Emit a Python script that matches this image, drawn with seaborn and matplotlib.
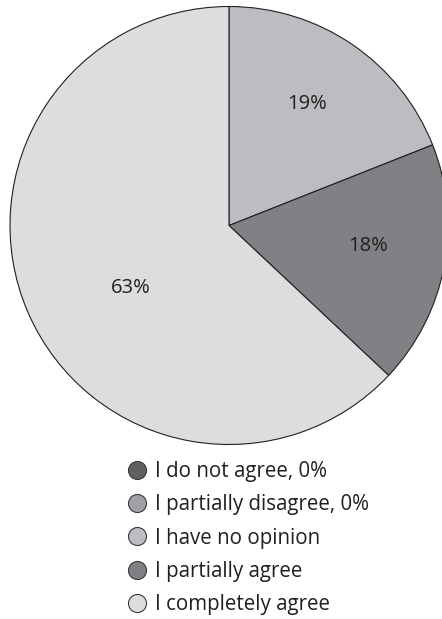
import matplotlib
matplotlib.use("Agg")
import matplotlib.pyplot as plt
from matplotlib.lines import Line2D
import seaborn as sns
import numpy as np

categories = ["I do not agree, 0%", "I partially disagree, 0%", "I have no opinion",
              "I partially agree", "I completely agree"]
values = [0, 0, 19, 18, 63]
colors = ["#5f6062", "#a0a1a4", "#bcbdc0", "#808184", "#dcdddf"]
pct_labels = ["", "", "19%", "18%", "63%"]

sns.set_theme(style="white")
plt.rcParams["font.family"] = ["Open Sans", "DejaVu Sans"]

W, H = 442, 619
fig = plt.figure(figsize=(W / 100, H / 100), dpi=100)
cx, cy, R = 229, 225.5, 219
ax = fig.add_axes([(cx - R) / W, 1 - (cy + R) / H, 2 * R / W, 2 * R / H])

wedges, _ = ax.pie(values, colors=colors, startangle=90, counterclock=False,
                   wedgeprops=dict(edgecolor="#231f20", linewidth=0.8))
for w in wedges:
    w.set_clip_on(False)
ax.set_xlim(-1, 1)
ax.set_ylim(-1, 1)
ax.set_aspect("equal")
ax.axis("off")

# label radial distances (fraction of radius) and angular offsets (deg)
label_r = [0, 0, 0.66, 0.64, 0.53]
label_shift = [0, 0, 1.6, 2.2, 8.9]
for w, lab, r, sh in zip(wedges, pct_labels, label_r, label_shift):
    if not lab:
        continue
    ang = np.deg2rad((w.theta1 + w.theta2) / 2 + sh)
    ax.text(r * np.cos(ang), r * np.sin(ang), lab, ha="center", va="center",
            fontsize=14.5, color="#231f20")

handles = [Line2D([0], [0], marker="o", linestyle="", markersize=13,
                  markerfacecolor=c, markeredgecolor="#3a3a3c", markeredgewidth=0.8)
           for c in colors]
fig.legend(handles, categories, loc="upper left",
           bbox_to_anchor=(126 / W, 1 - 461 / H), frameon=False,
           fontsize=14.8, handletextpad=0.35, labelspacing=0.6,
           handlelength=1.05, borderpad=0, borderaxespad=0, labelcolor="#231f20")

fig.savefig("out.png", dpi=100)
